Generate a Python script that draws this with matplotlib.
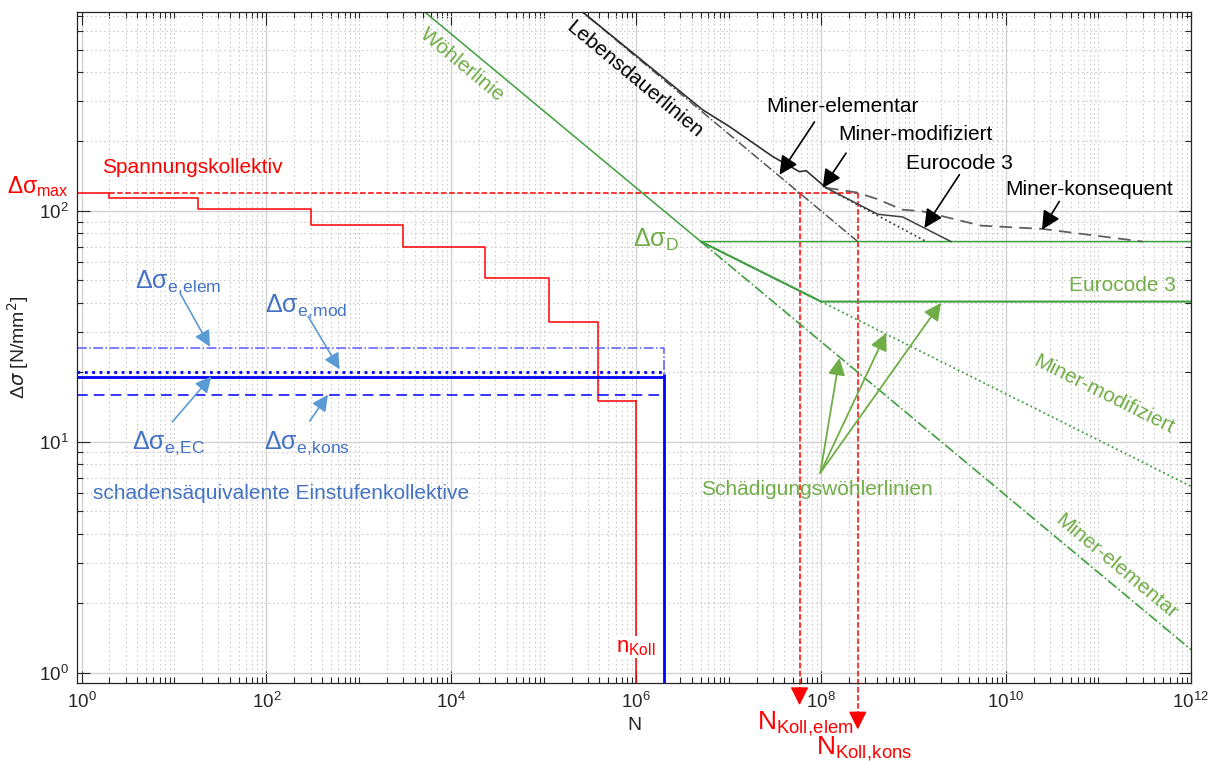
import numpy as np
import matplotlib
matplotlib.use('Agg')
import matplotlib.pyplot as plt
from matplotlib.ticker import FixedLocator, LogFormatterSciNotation, NullFormatter

plt.rcParams['font.family'] = ['Liberation Sans', 'DejaVu Sans']

# ---------------- data ----------------
# Spannungskollektiv (step edges in N, levels in N/mm2)
koll_N = [0.9, 2, 18, 300, 3000, 23000, 115000, 390000, 1e6]
koll_S = [120, 114, 102, 87, 69.5, 51, 33, 15]
S_max = 120
n_koll = 1e6

# schadensaequivalente Einstufenkollektive
N_e = 2e6
S_e_elem = 25.5
S_e_mod = 20.0
S_e_EC = 19.1
S_e_kons = 16.0

# Woehlerlinie + Schaedigungswoehlerlinien
woehler_N = [4.9e3, 5e6, 1e12]
woehler_S = [740, 73.7, 73.7]
elem_gr_N = [5e6, 1e12]
elem_gr_S = [73.7, 1.26]
mod_gr_N = [5e6, 1e12]
mod_gr_S = [73.7, 6.42]
ec_gr_N = [5e6, 1e8, 1e12]
ec_gr_S = [73.7, 40.5, 40.5]

# Lebensdauerlinien
life_elem_N = [2.3e5, 2.49e8]
life_elem_S = [760, 73.7]
life_top_N = [2.3e5, 5.25e6, 1.02e7, 3.0e7, 5.82e7, 6.9e7, 1.13e8]
life_top_S = [760, 274, 232, 172, 148, 149.4, 126]
life_kons_N = [1.13e8, 2.39e8, 3.94e8, 7.6e8, 1.25e9, 5.37e9, 2.49e10, 3.0e11]
life_kons_S = [126, 120.4, 113, 101.3, 99.6, 86.4, 83.6, 73.7]
life_ec_N = [1.13e8, 4.09e8, 7.62e8, 2.54e9]
life_ec_S = [126, 96.8, 94.2, 73.7]
life_mod_N = [1.13e8, 1.37e9]
life_mod_S = [126, 73.7]

N_koll_elem = 5.84e7
N_koll_kons = 2.49e8

RED = '#ff0000'
BLUE = '#0000ff'
BLUE_TXT = '#4472c4'
BLUE_ARR = '#5b9bd5'
GREEN = '#3f9f3f'
GREEN_TXT = '#70ad47'
GREY = '#262626'

fig = plt.figure(figsize=(12.15, 7.62), dpi=100)
ax = fig.add_axes([0.0636, 0.1033, 0.9166, 0.8814])
ax.set_xscale('log')
ax.set_yscale('log')
ax.set_xlim(0.9, 1e12)
ax.set_ylim(0.9, 730)
ymin = 0.9

# ---------------- Spannungskollektiv ----------------
xs = np.repeat(koll_N, 2)[1:-1]
ys = np.repeat(koll_S, 2)
ax.plot(xs, ys, color=RED, lw=1.1)
ax.plot([n_koll, n_koll], [koll_S[-1], ymin], color=RED, lw=1.1)
ax.plot([koll_N[1], N_koll_kons], [S_max, S_max], color=RED, lw=1.1, ls='--')
for nk, s_end, s_tip in [(N_koll_elem, 0.847, 0.724), (N_koll_kons, 0.667, 0.568)]:
    ax.plot([nk, nk], [S_max, s_end], color=RED, lw=1.1, ls='--', clip_on=False)
    ax.annotate('', xy=(nk, s_tip), xytext=(nk, s_end * 1.01), annotation_clip=False,
                arrowprops=dict(arrowstyle='-|>', color=RED, lw=1, mutation_scale=28,
                                shrinkA=0, shrinkB=0))

# ---------------- Einstufenkollektive ----------------
ax.plot([koll_N[0], N_e, N_e], [S_e_elem, S_e_elem, S_e_EC], color='#5a5aff', lw=1.1, ls='-.')
ax.plot([koll_N[0], N_e, N_e], [S_e_mod, S_e_mod, S_e_EC], color=BLUE, lw=2, ls=':')
ax.plot([koll_N[0], N_e], [S_e_kons, S_e_kons], color=BLUE, lw=1.1, ls=(0, (7, 4)))
ax.plot([koll_N[0], N_e, N_e], [S_e_EC, S_e_EC, ymin], color=BLUE, lw=2)

# ---------------- Woehlerlinien ----------------
ax.plot(woehler_N, woehler_S, color=GREEN, lw=1.1)
ax.plot(elem_gr_N, elem_gr_S, color=GREEN, lw=1.2, ls='-.')
ax.plot(mod_gr_N, mod_gr_S, color=GREEN, lw=1.3, ls=':')
ax.plot(ec_gr_N, ec_gr_S, color=GREEN, lw=1.5)

# ---------------- Lebensdauerlinien ----------------
ax.plot(life_elem_N, life_elem_S, color='#555555', lw=1.1, ls='-.')
ax.plot(life_top_N, life_top_S, color='#303030', lw=1.2)
ax.plot(life_kons_N, life_kons_S, color='#606060', lw=1.3, ls=(0, (7, 4)))
ax.plot(life_ec_N, life_ec_S, color='#404040', lw=1.1)
ax.plot(life_mod_N, life_mod_S, color='#404040', lw=1.3, ls=':')

# ---------------- axes styling ----------------
xmaj = 10.0 ** np.arange(0, 13, 2)
xmin_t = [k * 10.0 ** d for d in range(0, 12) for k in range(1, 10) if not (k == 1 and d % 2 == 0)]
ax.xaxis.set_major_locator(FixedLocator(xmaj))
ax.xaxis.set_minor_locator(FixedLocator(xmin_t))
ax.yaxis.set_major_locator(FixedLocator([1, 10, 100]))
ax.yaxis.set_minor_locator(FixedLocator([k * 10.0 ** d for d in range(0, 3) for k in range(2, 10)]))
ax.xaxis.set_major_formatter(LogFormatterSciNotation())
ax.yaxis.set_major_formatter(LogFormatterSciNotation())
ax.xaxis.set_minor_formatter(NullFormatter())
ax.yaxis.set_minor_formatter(NullFormatter())
ax.tick_params(which='both', direction='in', top=True, right=True, colors=GREY, width=0.8)
ax.tick_params(which='major', length=9, labelsize=13.5, pad=6)
ax.tick_params(which='minor', length=4.5)
ax.grid(which='major', color='#d2d2d2', lw=1, ls='-')
ax.grid(which='minor', color='#cccccc', lw=0.8, ls=(0, (1.5, 2.5)))
for sp in ax.spines.values():
    sp.set_color(GREY)
    sp.set_linewidth(0.9)
ax.set_xlabel('N', fontsize=14, color=GREY, labelpad=4)
ax.set_ylabel(r'$\mathregular{Δ}\sigma$ [N/mm$^2$]', fontsize=14, color=GREY, labelpad=6)

# ---------------- texts: red ----------------
ax.text(1.66, 155, 'Spannungskollektiv', color=RED, fontsize=15, ha='left', va='center')
ax.text(0.72, 128, r'$\mathregular{Δσ_{max}}$', color=RED, fontsize=16.5, ha='right', va='center',
        clip_on=False)
ax.text(n_koll, 1.29, r'$\mathregular{n_{Koll}}$', color=RED, fontsize=16, ha='center', va='center',
        bbox=dict(facecolor='white', edgecolor='none', pad=0.5))
ax.text(6.8e7, 0.6, r'$\mathregular{N_{Koll,\!elem}}$', color=RED, fontsize=19, ha='center',
        va='center', clip_on=False)
ax.text(2.95e8, 0.47, r'$\mathregular{N_{Koll,\!kons}}$', color=RED, fontsize=19, ha='center',
        va='center', clip_on=False)

# ---------------- texts: blue ----------------
ax.text(11, 48.9, r'$\mathregular{Δσ_{e,\!elem}}$', color=BLUE_TXT, fontsize=18, ha='center', va='center')
ax.text(267, 38.6, r'$\mathregular{Δσ_{e,\!mod}}$', color=BLUE_TXT, fontsize=18, ha='center', va='center')
ax.text(8.8, 9.9, r'$\mathregular{Δσ_{e,\!EC}}$', color=BLUE_TXT, fontsize=18, ha='center', va='center')
ax.text(276, 9.9, r'$\mathregular{Δσ_{e,\!kons}}$', color=BLUE_TXT, fontsize=18, ha='center', va='center')
ax.text(1.33, 5.97, 'schadensäquivalente Einstufenkollektive', color=BLUE_TXT, fontsize=15,
        ha='left', va='center')
for (x0, y0), (x1, y1) in [((11.6, 44.2), (24.5, 25.8)), ((282, 35.0), (620, 20.6)),
                           ((9.6, 12.2), (25.4, 19.2)), ((294, 12.3), (463, 16.0))]:
    ax.annotate('', xy=(x1, y1), xytext=(x0, y0),
                arrowprops=dict(arrowstyle='-|>', color=BLUE_ARR, lw=1.2, mutation_scale=24,
                                shrinkA=0, shrinkB=0))

# ---------------- texts: green ----------------
ax.text(1.31e4, 430, 'Wöhlerlinie', color=GREEN_TXT, fontsize=15, rotation=-39.8,
        rotation_mode='anchor', ha='center', va='center')
ax.text(2.94e6, 75, r'$\mathregular{Δσ_D}$', color=GREEN_TXT, fontsize=18, ha='right', va='center')
ax.text(1.81e11, 47.6, 'Eurocode 3', color=GREEN_TXT, fontsize=15, ha='center', va='center')
ax.text(1.15e11, 16.0, 'Miner-modifiziert', color=GREEN_TXT, fontsize=15, rotation=-26.5,
        rotation_mode='anchor', ha='center', va='center')
ax.text(1.56e11, 2.89, 'Miner-elementar', color=GREEN_TXT, fontsize=15, rotation=-39.8,
        rotation_mode='anchor', ha='center', va='center')
ax.text(9.1e7, 6.2, 'Schädigungswöhlerlinien', color=GREEN_TXT, fontsize=15, ha='center', va='center')
for tip in [(1.58e8, 23.1), (5.05e8, 29.6), (1.98e9, 40.0)]:
    ax.annotate('', xy=tip, xytext=(9.8e7, 7.34),
                arrowprops=dict(arrowstyle='-|>', color=GREEN_TXT, lw=1.3, mutation_scale=26,
                                shrinkA=0, shrinkB=0))

# ---------------- texts: black ----------------
ax.text(9.59e5, 370, 'Lebensdauerlinien', color='black', fontsize=15, rotation=-39.8,
        rotation_mode='anchor', ha='center', va='center')
labels_black = [('Miner-elementar', (1.70e8, 283), (8.47e7, 243), (3.55e7, 143.6)),
                ('Miner-modifiziert', (1.04e9, 214), (1.86e8, 178), (1.04e8, 125.8)),
                ('Eurocode 3', (3.1e9, 161), (3.13e9, 143.6), (1.31e9, 84.4)),
                ('Miner-konsequent', (7.95e10, 123.7), (3.77e10, 110), (2.45e10, 83))]
for txt, pos, tail, tip in labels_black:
    ax.text(pos[0], pos[1], txt, color='black', fontsize=15, ha='center', va='center')
    ax.annotate('', xy=tip, xytext=tail,
                arrowprops=dict(arrowstyle='-|>', color='black', lw=1.2, mutation_scale=28,
                                shrinkA=0, shrinkB=0))

fig.savefig('out.png', dpi=100)
